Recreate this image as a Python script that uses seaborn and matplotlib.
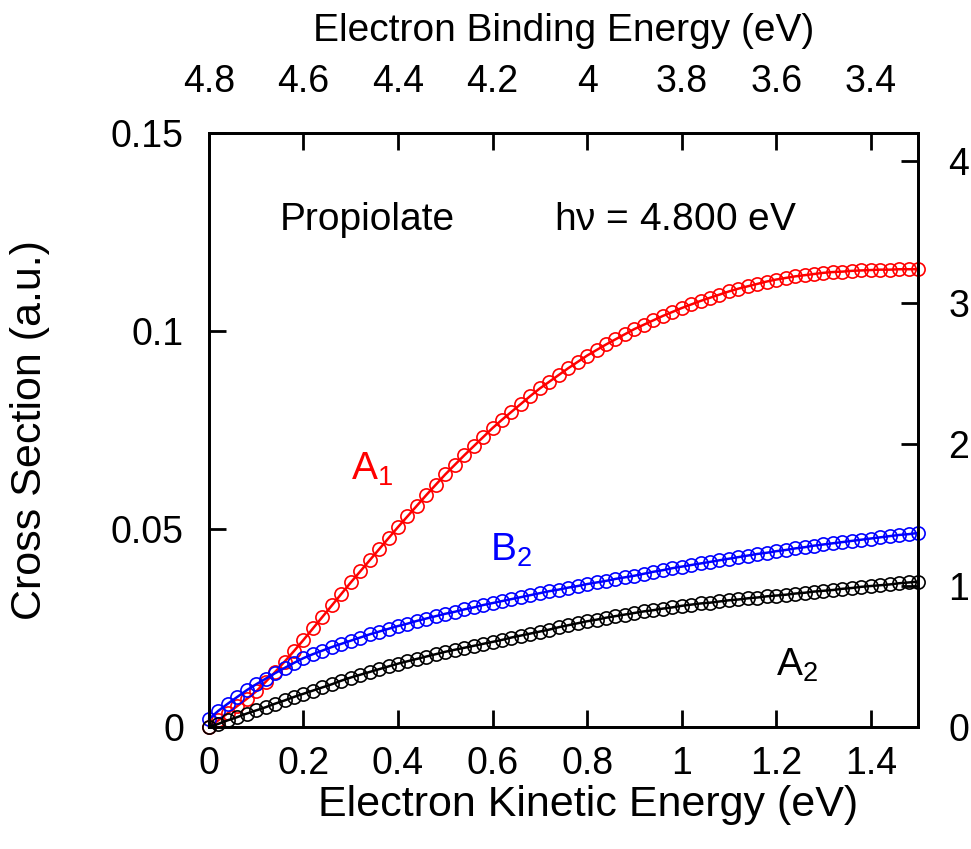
import numpy as np
import pandas as pd
import matplotlib
matplotlib.use("Agg")
import matplotlib.pyplot as plt
import seaborn as sns

# Photodetachment cross sections of propiolate vs. electron kinetic energy
ke = [round(0.02 * i, 2) for i in range(76)]

a1 = [0.0000, 0.0017, 0.0035, 0.0053, 0.0071, 0.0090, 0.0114, 0.0139, 0.0165, 0.0192,
      0.0220, 0.0249, 0.0278, 0.0307, 0.0336, 0.0365, 0.0393, 0.0421, 0.0449, 0.0477,
      0.0505, 0.0532, 0.0559, 0.0586, 0.0612, 0.0638, 0.0662, 0.0686, 0.0709, 0.0732,
      0.0755, 0.0776, 0.0796, 0.0816, 0.0836, 0.0855, 0.0872, 0.0889, 0.0906, 0.0922,
      0.0938, 0.0952, 0.0966, 0.0979, 0.0992, 0.1005, 0.1016, 0.1027, 0.1038, 0.1048,
      0.1058, 0.1067, 0.1076, 0.1084, 0.1092, 0.1100, 0.1107, 0.1113, 0.1119, 0.1125,
      0.1130, 0.1134, 0.1138, 0.1141, 0.1144, 0.1147, 0.1149, 0.1150, 0.1152, 0.1153,
      0.1154, 0.1155, 0.1155, 0.1156, 0.1156, 0.1156]

b2 = [0.0020, 0.0041, 0.0059, 0.0076, 0.0093, 0.0108, 0.0122, 0.0136, 0.0149, 0.0162,
      0.0174, 0.0184, 0.0193, 0.0202, 0.0210, 0.0218, 0.0226, 0.0234, 0.0241, 0.0248,
      0.0255, 0.0261, 0.0268, 0.0274, 0.0280, 0.0286, 0.0291, 0.0297, 0.0302, 0.0308,
      0.0313, 0.0318, 0.0323, 0.0328, 0.0333, 0.0338, 0.0343, 0.0347, 0.0352, 0.0356,
      0.0361, 0.0365, 0.0369, 0.0374, 0.0378, 0.0382, 0.0387, 0.0392, 0.0396, 0.0401,
      0.0405, 0.0409, 0.0413, 0.0417, 0.0421, 0.0425, 0.0429, 0.0433, 0.0437, 0.0440,
      0.0444, 0.0447, 0.0451, 0.0454, 0.0458, 0.0461, 0.0464, 0.0467, 0.0470, 0.0473,
      0.0476, 0.0479, 0.0482, 0.0485, 0.0487, 0.0490]

a2 = [0.0000, 0.0008, 0.0017, 0.0025, 0.0034, 0.0042, 0.0050, 0.0059, 0.0067, 0.0076,
      0.0084, 0.0092, 0.0100, 0.0108, 0.0117, 0.0125, 0.0132, 0.0139, 0.0146, 0.0153,
      0.0160, 0.0166, 0.0172, 0.0178, 0.0184, 0.0190, 0.0195, 0.0200, 0.0205, 0.0210,
      0.0215, 0.0220, 0.0226, 0.0231, 0.0236, 0.0241, 0.0246, 0.0252, 0.0257, 0.0262,
      0.0267, 0.0271, 0.0276, 0.0280, 0.0284, 0.0288, 0.0292, 0.0295, 0.0299, 0.0302,
      0.0306, 0.0309, 0.0312, 0.0314, 0.0317, 0.0320, 0.0322, 0.0325, 0.0327, 0.0330,
      0.0332, 0.0334, 0.0337, 0.0339, 0.0342, 0.0344, 0.0346, 0.0349, 0.0351, 0.0354,
      0.0356, 0.0358, 0.0360, 0.0363, 0.0365, 0.0367]

photon_energy = 4.800
x_ticks = [0, 0.2, 0.4, 0.6, 0.8, 1.0, 1.2, 1.4]
y_ticks = [0, 0.05, 0.1, 0.15]
top_ticks = [4.8, 4.6, 4.4, 4.2, 4.0, 3.8, 3.6, 3.4]
right_ticks = [0, 1, 2, 3, 4]

sns.set_style("ticks")
plt.rcParams["font.family"] = ["Liberation Sans", "DejaVu Sans"]
plt.rcParams["mathtext.fontset"] = "custom"
plt.rcParams["mathtext.rm"] = "Liberation Sans"
plt.rcParams["mathtext.it"] = "Liberation Sans"
plt.rcParams["text.color"] = "black"
plt.rcParams["axes.labelcolor"] = "black"
plt.rcParams["xtick.color"] = "black"
plt.rcParams["ytick.color"] = "black"
plt.rcParams["axes.edgecolor"] = "black"

FS = 27
LFS = 31
TFS = 28
AFS = 28

fig = plt.figure(figsize=(9.71, 8.49), dpi=100)
ax = fig.add_axes([0.2152, 0.1437, 0.7302, 0.6996])

series = [(a1, "red"), (b2, "blue"), (a2, "black")]
for vals, col in series:
    df = pd.DataFrame({"ke": ke, "cs": vals})
    sns.lineplot(data=df, x="ke", y="cs", ax=ax, color=col, lw=1.8,
                 marker="o", markersize=9.5, markerfacecolor="none",
                 markeredgecolor=col, markeredgewidth=1.2, clip_on=False,
                 zorder=3)

ax.set_xlim(0, 1.5)
ax.set_ylim(0, 0.15)
ax.set_xticks(x_ticks)
ax.set_xticklabels([f"{t:g}" for t in x_ticks])
ax.set_yticks(y_ticks)
ax.set_yticklabels([f"{t:g}" for t in y_ticks])
ax.set_xlabel("Electron Kinetic Energy (eV)", fontsize=LFS, labelpad=2)
ax.xaxis.label.set_x(0.535)
ax.set_ylabel("Cross Section (a.u.)", fontsize=LFS, labelpad=44)
ax.tick_params(axis="both", direction="in", length=12, width=2,
               labelsize=FS, pad=14, top=False, right=False)
ax.tick_params(axis="y", pad=18)

for s in ax.spines.values():
    s.set_linewidth(2)
    s.set_visible(True)

# Binding energy scale on top
top = ax.secondary_xaxis("top", functions=(lambda x: photon_energy - x,
                                           lambda b: photon_energy - b))
top.set_xticks(top_ticks)
top.set_xticklabels([f"{t:g}" for t in top_ticks])
top.tick_params(direction="in", length=12, width=2, labelsize=FS, pad=24)
top.set_xlabel("Electron Binding Energy (eV)", fontsize=TFS, labelpad=16)

# Right-hand scale
rax = ax.twinx()
rax.set_ylim(0, 0.15 * 28)
rax.set_yticks(right_ticks)
rax.set_yticklabels([str(t) for t in right_ticks])
rax.tick_params(direction="in", length=12, width=2, labelsize=FS, pad=22)
for s in rax.spines.values():
    s.set_linewidth(2)

ax.text(0.15, 0.128, "Propiolate", fontsize=AFS, ha="left", va="center")
ax.text(0.73, 0.128, r"h$\nu$ = 4.800 eV", fontsize=AFS, ha="left", va="center")
ax.text(0.30, 0.065, r"A$_1$", color="red", fontsize=AFS, ha="left", va="center")
ax.text(0.595, 0.0445, r"B$_2$", color="blue", fontsize=AFS, ha="left", va="center")
ax.text(1.20, 0.0155, r"A$_2$", color="black", fontsize=AFS, ha="left", va="center")

fig.savefig("out.png", dpi=100)
